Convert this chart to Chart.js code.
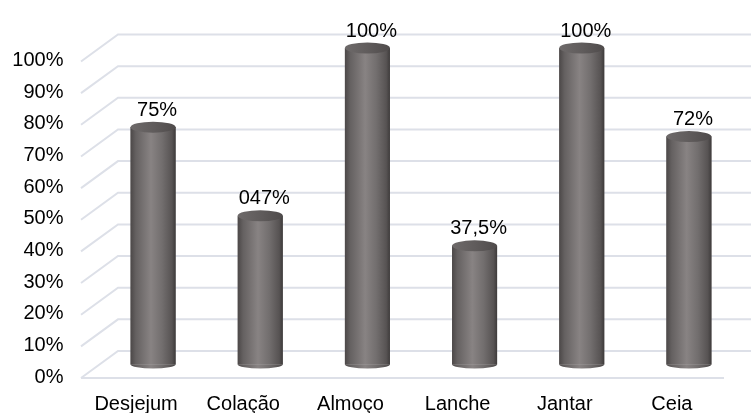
<!DOCTYPE html>
<html>
<head>
<meta charset="utf-8">
<script src="https://cdn.jsdelivr.net/npm/chart.js@4"></script>
<style>
  html, body { margin: 0; padding: 0; background: #fff; }
</style>
</head>
<body>
<canvas id="grafico" width="751" height="413"></canvas>
<script>
const categorias = ["Desjejum", "Colação", "Almoço", "Lanche", "Jantar", "Ceia"];
const valores = [75, 47, 100, 37.5, 100, 72];
const rotulos = ["75%", "047%", "100%", "37,5%", "100%", "72%"];
const ticksY = [0, 10, 20, 30, 40, 50, 60, 70, 80, 90, 100];

// profundidade do "3D"
const DX = 18.5;
const DY = 13.5;
const RY = 5.5;
const corGrade = "#dde0e8";
const fonte = "'Liberation Sans', Arial, sans-serif";

function gradCorpo(ctx, x0, x1) {
  const g = ctx.createLinearGradient(x0, 0, x1, 0);
  g.addColorStop(0, "#4c4848");
  g.addColorStop(0.12, "#656161");
  g.addColorStop(0.45, "#888383");
  g.addColorStop(0.7, "#726e6e");
  g.addColorStop(0.92, "#575353");
  g.addColorStop(1, "#3e3b3b");
  return g;
}

function gradTopo(ctx, x0, x1) {
  const g = ctx.createLinearGradient(x0, 0, x1, 0);
  g.addColorStop(0, "#6e6a6a");
  g.addColorStop(0.5, "#605c5c");
  g.addColorStop(1, "#4f4b4b");
  return g;
}

const grade3d = {
  id: "grade3d",
  beforeDatasetsDraw(chart) {
    const { ctx, chartArea: { left, right }, scales: { y } } = chart;
    ctx.save();
    ctx.strokeStyle = corGrade;
    ctx.lineWidth = 2;
    ticksY.forEach(v => {
      const py = y.getPixelForValue(v);
      ctx.beginPath();
      ctx.moveTo(left - DX, py + DY);
      ctx.lineTo(left + DX, py - DY);
      ctx.lineTo(right + DX, py - DY);
      ctx.stroke();
    });
    const p0 = y.getPixelForValue(0);
    ctx.beginPath();
    ctx.moveTo(left - DX, p0 + DY);
    ctx.lineTo(right - DX, p0 + DY);
    ctx.stroke();
    ctx.restore();
  }
};

const cilindros = {
  id: "cilindros",
  afterDatasetsDraw(chart) {
    const { ctx } = chart;
    const meta = chart.getDatasetMeta(0);
    ctx.save();
    meta.data.forEach((bar, i) => {
      const { x, y, base, width } = bar.getProps(["x", "y", "base", "width"], true);
      const x0 = x - width / 2, x1 = x + width / 2;
      // corpo (por cima da barra do Chart.js, mesmo degrade)
      ctx.fillStyle = gradCorpo(ctx, x0, x1);
      ctx.fillRect(x0, y, width, base - y);
      // fundo arredondado
      ctx.beginPath();
      ctx.ellipse(x, base, width / 2, RY - 1.5, 0, 0, Math.PI);
      ctx.fill();
      // tampa
      ctx.beginPath();
      ctx.ellipse(x, y, width / 2, RY, 0, 0, Math.PI * 2);
      ctx.fillStyle = gradTopo(ctx, x0, x1);
      ctx.fill();
      // rotulo
      ctx.fillStyle = "#000";
      ctx.font = "20px " + fonte;
      ctx.textAlign = "center";
      ctx.textBaseline = "middle";
      ctx.fillText(rotulos[i], x + 4, y - 17);
    });
    ctx.restore();
  }
};

new Chart(document.getElementById("grafico"), {
  type: "bar",
  data: {
    labels: categorias,
    datasets: [{
      data: valores,
      backgroundColor: "#6e6a6a",
      borderWidth: 0,
      barPercentage: 0.42,
      categoryPercentage: 1,
      clip: false,
    }],
  },
  plugins: [grade3d, cilindros],
  options: {
    responsive: false,
    animation: false,
    devicePixelRatio: 1,
    layout: { padding: { top: 41.5, right: 8.5, left: 0, bottom: 0 } },
    plugins: {
      legend: { display: false },
      tooltip: { enabled: false },
    },
    scales: {
      x: {
        grid: { display: false, drawTicks: false },
        border: { display: false },
        ticks: {
          color: "#000",
          font: { family: fonte, size: 20 },
          labelOffset: -17,
          padding: 28,
          maxRotation: 0,
        },
        afterFit: (s) => { s.height = 48.5; },
      },
      y: {
        min: 0,
        max: 100,
        grid: { display: false, drawTicks: false },
        border: { display: false },
        ticks: {
          stepSize: 10,
          color: "#000",
          font: { family: fonte, size: 20 },
          padding: 36,
          labelOffset: DY - 1,
          callback: (v) => v + "%",
        },
        afterFit: (s) => { s.width = 99.5; },
      },
    },
  },
});
</script>
</body>
</html>
